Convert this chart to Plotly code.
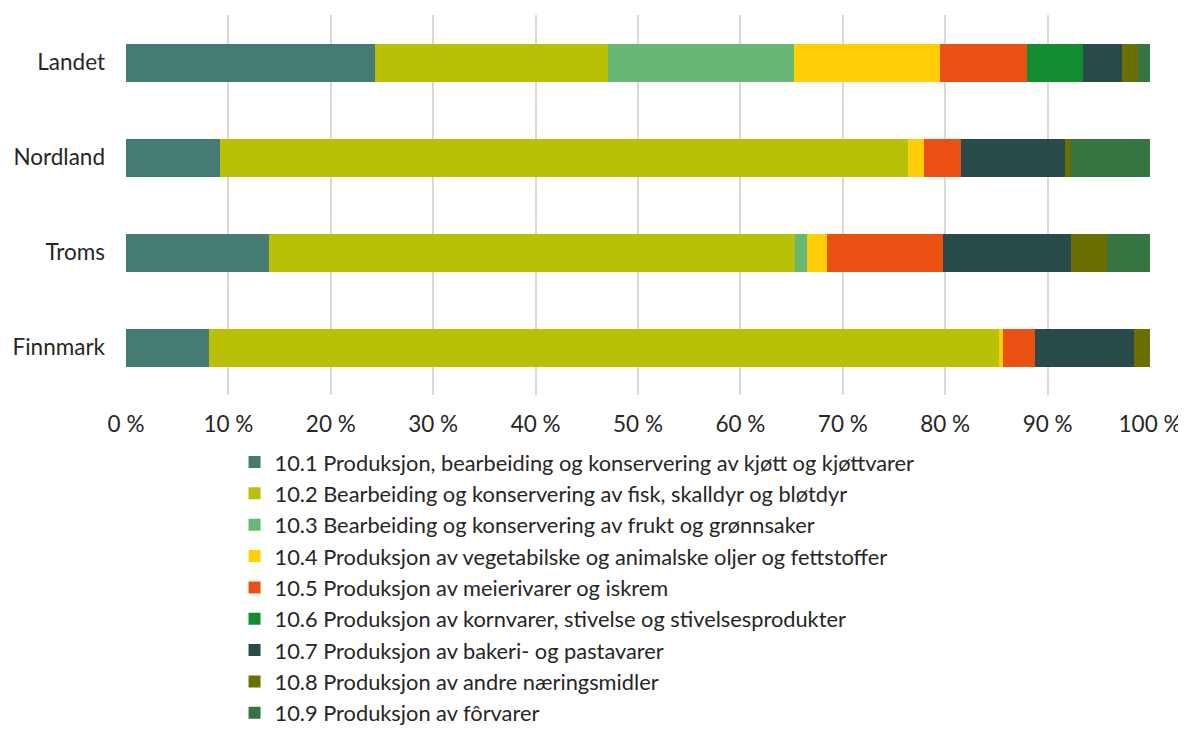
import plotly.graph_objects as go

regions = ["Landet", "Nordland", "Troms", "Finnmark"]

series_names = [
    "10.1 Produksjon, bearbeiding og konservering av kjøtt og kjøttvarer",
    "10.2 Bearbeiding og konservering av fisk, skalldyr og bløtdyr",
    "10.3 Bearbeiding og konservering av frukt og grønnsaker",
    "10.4 Produksjon av vegetabilske og animalske oljer og fettstoffer",
    "10.5 Produksjon av meierivarer og iskrem",
    "10.6 Produksjon av kornvarer, stivelse og stivelsesprodukter",
    "10.7 Produksjon av bakeri- og pastavarer",
    "10.8 Produksjon av andre næringsmidler",
    "10.9 Produksjon av fôrvarer",
]

v101 = [24.3, 9.2, 14.0, 8.1]
v102 = [22.8, 67.2, 51.3, 77.2]
v103 = [18.1, 0.0, 1.2, 0.0]
v104 = [14.3, 1.5, 2.0, 0.3]
v105 = [8.5, 3.6, 11.3, 3.2]
v106 = [5.5, 0.0, 0.0, 0.0]
v107 = [3.8, 10.2, 12.5, 9.6]
v108 = [1.5, 0.6, 3.5, 1.6]
v109 = [1.2, 7.7, 4.2, 0.0]

values = [v101, v102, v103, v104, v105, v106, v107, v108, v109]

colors = ["#457b73", "#b8c007", "#68b775", "#ffce07", "#e95011",
          "#138b31", "#284a48", "#6b6f02", "#367542"]

fig = go.Figure()
for i, (name, vals, col) in enumerate(zip(series_names, values, colors)):
    fig.add_trace(go.Bar(
        y=regions, x=vals, name=name, orientation="h",
        marker=dict(color=col, line=dict(width=0)),
    ))

font_family = "Lato, Carlito, 'Open Sans', sans-serif"
txt = "#262626"
fs = 22.5
legend_fs = 21.8

fig.update_layout(
    barmode="stack",
    bargap=0.6,
    width=1178, height=750,
    margin=dict(l=118, r=36, t=7, b=363),
    plot_bgcolor="white", paper_bgcolor="white",
    font=dict(family=font_family, size=fs, color=txt),
    showlegend=True,
    legend=dict(
        orientation="v", x=0.106, xanchor="left", y=-0.122, yanchor="top",
        font=dict(size=legend_fs, color=txt),
        traceorder="normal",
        itemwidth=30,
    ),
    xaxis=dict(
        range=[0, 100], dtick=10, ticksuffix=" %",
        showgrid=True, gridcolor="#d9d9d9", gridwidth=1.5,
        zeroline=False, showline=False, ticks="",
        ticklabelstandoff=13, ticklabeloverflow="allow",
        automargin=False,
        tickfont=dict(size=fs, color=txt),
    ),
    yaxis=dict(
        autorange="reversed", showgrid=False, showline=False, ticks="",
        ticklabelstandoff=20, automargin=False,
        tickfont=dict(size=fs, color=txt),
    ),
)

fig.write_html("out.html")
